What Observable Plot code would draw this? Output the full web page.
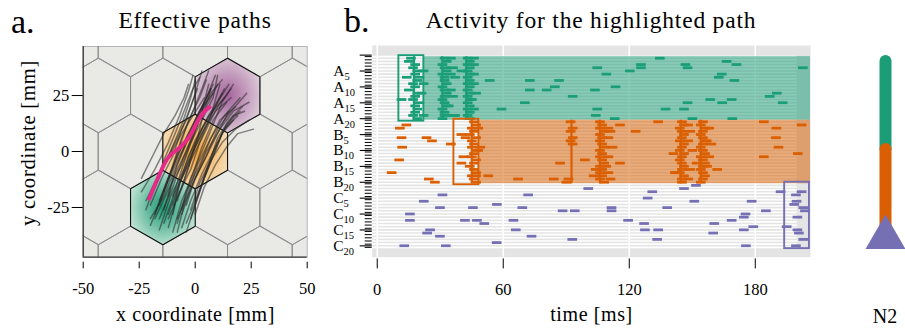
<!DOCTYPE html>
<html><head><meta charset="utf-8">
<script src="https://cdn.jsdelivr.net/npm/d3@7"></script>
<script src="https://cdn.jsdelivr.net/npm/@observablehq/plot@0.6"></script>
<style>
html,body{margin:0;padding:0;background:#fff;}
#root{position:relative;width:905px;height:332px;overflow:hidden;}
#root > svg{position:absolute;top:0;}
</style></head><body><div id="root"></div>
<script>
// ---------- shared ----------
const groups = ["A", "B", "C"];
const groupColors = ["#1b9e77", "#d95f02", "#7570b3"];
const groupOffset = {A: 0, B: 20, C: 40};

// ---------- panel a data ----------
const xDomA = [-50, 50];
const yDomA = [-47.2, 46.9];
const hexRadius = 16.67;
const hexCenters = [
  [-57.74, 50], [-28.87, 50], [0, 50], [28.87, 50], [57.74, 50],
  [-43.3, 25], [-14.43, 25], [14.43, 25], [43.3, 25],
  [-57.74, 0], [-28.87, 0], [0, 0], [28.87, 0], [57.74, 0],
  [-43.3, -25], [-14.43, -25], [14.43, -25], [43.3, -25],
  [-57.74, -50], [-28.87, -50], [0, -50], [28.87, -50], [57.74, -50]
];
const highlightedHexes = [
  {group: "A", cx: -14.43, cy: -25, inner: "#1d9a73", outer: "#c3e5d7"},
  {group: "B", cx: 0, cy: 0, inner: "#f5a43a", outer: "#f6ddb8"},
  {group: "C", cx: 14.43, cy: 25, inner: "#a5639c", outer: "#ddcdd9"}
];
const grayPaths = [
  [[-20,-33],[-14,-18],[-8,-4],[-2,8],[4,22],[8,30]],
  [[-16,-35],[-11,-20],[-5,-8],[0,5],[6,16],[12,26]],
  [[-12,-30],[-6,-16],[-2,-4],[4,8],[10,20],[16,28]],
  [[-8,-32],[-4,-18],[2,-6],[7,6],[13,16],[20,24]],
  [[-22,-26],[-17,-12],[-11,0],[-6,12],[-2,24],[0,32]],
  [[-24,-18],[-18,-8],[-12,4],[-7,16],[-3,27],[-1,34]],
  [[-6,-28],[-1,-14],[5,-2],[10,10],[16,18],[23,26]],
  [[-14,-26],[-10,-12],[-4,0],[1,12],[5,24],[9,34]],
  [[-18,-30],[-12,-17],[-6,-6],[-1,6],[3,18],[6,30]],
  [[-10,-36],[-6,-22],[-1,-10],[3,2],[8,14],[14,22]],
  [[-4,-24],[0,-12],[5,0],[11,10],[17,18],[24,22]],
  [[-16,-22],[-11,-10],[-7,2],[-3,14],[2,24],[5,32]],
  [[-20,-20],[-15,-8],[-9,4],[-4,14],[0,26],[3,36]],
  [[-12,-34],[-8,-20],[-2,-8],[2,4],[7,16],[11,30]],
  [[-2,-30],[2,-18],[6,-6],[10,6],[15,14],[21,20]],
  [[-8,-22],[-4,-10],[0,2],[5,12],[10,22],[15,30]],
  [[-18,-16],[-14,-4],[-9,8],[-5,18],[-1,28],[2,33]],
  [[-14,-32],[-9,-18],[-3,-6],[1,6],[4,18],[7,28]],
  [[-6,-34],[-2,-22],[3,-10],[8,0],[13,10],[19,16]],
  [[-24,-12],[-19,-2],[-14,8],[-9,16],[-5,24],[-3,30]],
  [[-10,-28],[-7,-14],[-2,-2],[3,10],[9,20],[13,28]],
  [[0,-22],[4,-12],[8,-2],[12,8],[17,16],[22,18]],
  [[-16,-30],[-10,-16],[-5,-2],[0,10],[5,20],[10,30]],
  [[-12,-20],[-8,-6],[-3,6],[2,16],[7,26],[12,32]],
  [[-4,-36],[0,-24],[4,-12],[8,-2],[12,8],[17,14]],
  [[-20,-24],[-15,-12],[-10,-2],[-6,10],[-2,20],[1,28]],
  [[-8,-30],[-3,-18],[1,-6],[6,4],[11,14],[18,20]],
  [[-2,-26],[2,-14],[7,-4],[12,4],[18,10],[24,14]],
  [[-14,-18],[-10,-6],[-6,6],[-1,18],[3,28],[6,36]],
  [[-10,-24],[-6,-12],[-1,0],[4,10],[9,18],[16,24]],
  [[-18,-28],[-13,-14],[-8,-2],[-3,8],[2,18],[8,26]],
  [[-6,-26],[-2,-12],[3,0],[8,12],[12,22],[17,30]],
  [[-22,-22],[-16,-10],[-11,-1],[-6,8],[-1,16],[4,24]],
  [[-12,-28],[-7,-14],[-3,-2],[2,8],[6,16],[13,24]],
  [[-4,-32],[1,-20],[5,-8],[9,2],[14,12],[20,18]],
  [[-16,-24],[-12,-12],[-7,0],[-2,10],[3,20],[7,28]],
  [[-8,-36],[-5,-24],[0,-12],[5,-2],[10,8],[15,18]],
  [[-20,-30],[-14,-20],[-9,-8],[-4,4],[0,14],[4,22]],
  [[0,-28],[4,-16],[9,-6],[14,2],[19,8],[26,10]],
  [[-10,-20],[-6,-8],[-2,4],[3,14],[8,24],[10,34]]
];
const pinkPath = [[-20.5,-21.1],[-17.1,-12.9],[-11.9,-2.5],[-6.7,1.9],[-2.2,7.1],[0.8,13.1],[3.7,17.5],[6.4,19.8]];
const xTicksA = [-50, -25, 0, 25, 50];
const yTicksA = [-25, 0, 25];

// ---------- panel b data ----------
const xDomB = [-2.4, 206.3];
const yDomB = [-3.5, 63.1];
const timeTicks = [0, 60, 120, 180];
const stripeEnd = 200;
const spikeLength = 4.6;
// scattered spikes: [time ms, neuron number]
const spikesA = [[9.5,14],[35,19],[51.5,8],[70.6,8],[84.5,8],[70.6,11],[78.6,11],[82.5,10],[91,13],[68.2,15],[57.1,17],
  [102.7,4],[123.5,3],[123.5,4],[118.2,5],[107,6],[132.5,1],[144.7,3],[145.7,4],[164.3,2],[169,3],[162,6],[160.6,7],[168,8],
  [101.6,11],[111.4,10],[200.6,4],[188.2,12],[184.8,13],[156.5,14],[166.7,14],[162.2,15],[191,15],[145.7,15],[102.7,17],
  [135.2,17],[144,17],[102,19],[111,20],[148,20],[167,20]];
const burstA1 = [14,13,16,15,17,16,18,17,15,16,13,17,16,15,18,16,17,16,15,17];
const burstA1Extra = [[20,5],[20,9],[19,12],[20,19],[12,7]];
const burstA2 = [30,31,29,30,31,29,30,30,31,29,30,31,30,29,30,31,29,30,30,29];
const burstA2Extra = [[33,1],[34,4],[33,6],[35,7],[33,11],[34,13],[32,16],[34,19]];
const burstA3 = [41,42,41,42,41,42,41,42,41,42,41,42,41,42,41,42,41,42,41,42];
const burstA3Extra = [[44,1],[44,3],[38,5],[44,6],[44,9],[45,12],[43,14],[44,17]];

const spikesB = [[11.8,2],[8.7,3],[9.5,6],[21.4,6],[24,7],[33,8],[9.8,9],[8.4,13],[4.8,17],[22.5,19],[25.4,20],[50.8,18],
  [65,19],[82,19],[85,14],[96.8,13],[113.5,2],[121,4],[131.7,1],[113.5,14],[154.8,7],[159.8,16],[139.7,17],
  [182,1],[188,3],[187.8,6],[189,9],[198.2,11],[182,12],[200,2]];
const burstB1 = [44,45,43,44,42,45,43,44,43,45,44,43,45,44,42,44,45,43,44,45];
const burstB1Extra = [[38,5],[40,6],[39,12],[46,3],[47,9],[46,10],[45,18],[38,14]];
const burstB2 = [[90,1],[91,3],[90,4],[91,6],[90,7],[91,8],[89,19],[88,20]];
const burstB3 = [104,105,104,106,104,105,104,105,106,104,105,104,105,106,104,105,104,105,104,106];
const burstB3Extra = [[108,3],[109,4],[108,6],[110,9],[108,12],[107,15],[108,17],[109,19],[102,16],[101,18]];
const burstB4 = [143,144,142,143,144,143,142,144,143,142,144,143,142,143,144,143,142,144,143,143];
const burstB4Extra = [[146,2],[147,4],[146,7],[148,10],[147,16],[146,19],[139,11],[140,17]];
const burstB5 = [153,152,154,153,152,153,154,153,152,153,154,152,153,154,153,152,153,154,153,152];
const burstB5Extra = [[156,3],[157,8],[156,12],[155,15],[150,14]];

const spikesC = [[29,4],[20.1,6],[27.8,8],[43.5,8],[54.9,7],[13.5,10],[13.5,12],[39.7,12],[45.4,12],[48.9,13],[23.1,15],
  [21.7,16],[27.8,17],[54.8,19],[10.8,20],[30.6,20],[69.8,4],[67,8],[86.2,9],[92,9],[62.8,12],[63.9,15],[71.4,17],
  [90.8,18],[98.4,2],[128.9,3],[144,2],[149.7,1],[126.7,5],[148.9,6],[109.5,8],[109.5,9],[136,8],[176.2,6],[183,9],
  [173.3,10],[172.5,11],[117.4,12],[125,13],[158.4,13],[166.7,12],[177,14],[125.4,15],[131.7,15],[172.5,15],[157.9,16],
  [131.2,18],[173.5,20],[190,3],[192.9,14],
  [200,3],[197.3,4],[197.6,6],[196.5,7],[200.8,8],[201.6,9],[198,11],[198,15],[198.7,16],[200.8,18],[197.3,20]];

const burstLines = [
  {group: "A", t: 17.5}, {group: "A", t: 31}, {group: "A", t: 42.5},
  {group: "B", t: 45}, {group: "B", t: 92.5}, {group: "B", t: 106}, {group: "B", t: 144.5}, {group: "B", t: 154}
];
const bands = [{group: "A", t1: 22.2, y1: 0, y2: 20}, {group: "B", t1: 48.4, y1: 20, y2: 40}];
const boxes = [
  {group: "A", t1: 10.3, t2: 22.2, y1: -0.3, y2: 20.3},
  {group: "B", t1: 36.5, t2: 48.4, y1: 19.7, y2: 40.3},
  {group: "C", t1: 194, t2: 205.8, y1: 39.5, y2: 60.4}
];
const rowTicks = d3.range(0, 61);
const rowLabelTicks = d3.range(0, 61, 5);

// ---------- icon data ----------
const iconParts = [{part: "A", from: 0, to: 1}, {part: "B", from: 1, to: 2}];
const iconSoma = [{part: "C", at: 2}];

const serif = "'Liberation Serif', 'Times New Roman', serif";
const baseStyle = {fontFamily: serif, fontSize: "16.5px", background: "transparent", overflow: "visible", color: "black"};

// ---------- build panel a ----------
function hexVerts(cx, cy, id, extra) {
  return d3.range(6).map(k => {
    const a = Math.PI / 180 * (90 + 60 * k);
    return {id, x: cx + hexRadius * Math.cos(a), y: cy + hexRadius * Math.sin(a), ...extra};
  });
}
const hexGrid = hexCenters.flatMap(([cx, cy], i) => hexVerts(cx, cy, i));
const grayPts = grayPaths.flatMap((p, i) => p.map(([x, y]) => ({id: i, x, y})));
const pinkPts = pinkPath.map(([x, y]) => ({x, y}));

const plotA = Plot.plot({
  width: 320, height: 332,
  marginLeft: 82.7, marginRight: 13.3, marginTop: 46, marginBottom: 75.3,
  x: {domain: xDomA, label: null}, y: {domain: yDomA, label: null},
  style: baseStyle,
  marks: [
    Plot.frame({fill: "#e9eae6", stroke: "#b5b5b5"}),
    Plot.line(hexGrid, {x: "x", y: "y", z: "id", curve: "linear-closed", stroke: "#8e8e8e", strokeWidth: 1, clip: true}),
    ...highlightedHexes.map(h => Plot.line(hexVerts(h.cx, h.cy, h.group), {
      x: "x", y: "y", curve: "linear-closed", fill: `url(#grad${h.group})`, stroke: "#111", strokeWidth: 1.1
    })),
    Plot.line(grayPts, {x: "x", y: "y", z: "id", stroke: "#262626", strokeOpacity: 0.55, strokeWidth: 1.5}),
    Plot.line(pinkPts, {x: "x", y: "y", stroke: "#e7298a", strokeWidth: 4, strokeLinecap: "round", curve: "catmull-rom"}),
    Plot.ruleX([xDomA[0]], {stroke: "#333", strokeWidth: 1.3}),
    Plot.ruleY([yDomA[0]], {stroke: "#333", strokeWidth: 1.3}),
    Plot.axisY(yTicksA, {label: null, tickSize: 11, tickPadding: 3, tickFormat: d => String(d), fontSize: 16.5}),
    Plot.axisX(xTicksA, {label: null, tickSize: 6.6, tickPadding: 13.5, dy: 5, tickFormat: d => String(d), fontSize: 16.5})
  ]
});
const defsA = d3.select(plotA).insert("defs", ":first-child");
for (const h of highlightedHexes) {
  const g = defsA.append("radialGradient").attr("id", `grad${h.group}`).attr("cx", "50%").attr("cy", "50%").attr("r", "55%");
  g.append("stop").attr("offset", "0%").attr("stop-color", h.inner);
  g.append("stop").attr("offset", "100%").attr("stop-color", h.outer);
}
plotA.style.left = "0px";

// ---------- build panel b ----------
const spikes = [];
const addPairs = (group, pairs) => { for (const [t, n] of pairs) spikes.push({group, t, n}); };
const addRows = (group, times) => times.forEach((t, i) => spikes.push({group, t, n: i + 1}));
addPairs("A", spikesA); addRows("A", burstA1); addPairs("A", burstA1Extra);
addRows("A", burstA2); addPairs("A", burstA2Extra); addRows("A", burstA3); addPairs("A", burstA3Extra);
addPairs("B", spikesB); addRows("B", burstB1); addPairs("B", burstB1Extra); addPairs("B", burstB2);
addRows("B", burstB3); addPairs("B", burstB3Extra); addRows("B", burstB4); addPairs("B", burstB4Extra);
addRows("B", burstB5); addPairs("B", burstB5Extra);
addPairs("C", spikesC);

const rowLabel = i => {
  if (i === 0) return "";
  const g = groups[Math.floor((i - 1) / 20)];
  return g + (i - 20 * Math.floor((i - 1) / 20));
};

const plotB = Plot.plot({
  width: 500, height: 332,
  marginLeft: 51.7, marginRight: 10, marginTop: 45, marginBottom: 75.3,
  x: {domain: xDomB, label: null}, y: {domain: yDomB, reverse: true, label: null},
  color: {domain: groups, range: groupColors},
  style: baseStyle,
  marks: [
    Plot.frame({fill: "#e4e4e4"}),
    Plot.gridX(timeTicks, {stroke: "white", strokeOpacity: 1, strokeWidth: 1.6}),
    Plot.ruleY(rowTicks, {x1: xDomB[0], x2: stripeEnd, stroke: "white", strokeWidth: 1.6}),
    Plot.rect(bands, {x1: "t1", x2: () => xDomB[1], y1: "y1", y2: "y2", fill: "group", fillOpacity: 0.52}),
    Plot.ruleX(burstLines, {x: "t", y1: d => groupOffset[d.group], y2: d => groupOffset[d.group] + 20, stroke: "group", strokeWidth: 2.2}),
    Plot.ruleY(spikes, {y: d => groupOffset[d.group] + d.n - 0.5, x1: "t", x2: d => d.t + spikeLength, stroke: "group", strokeWidth: 2.8}),
    Plot.rect(boxes, {x1: "t1", x2: "t2", y1: "y1", y2: "y2", fill: "none", stroke: "group", strokeWidth: 1.9}),
    Plot.axisY(rowTicks, {label: null, tickSize: 7, tickFormat: () => "", strokeWidth: 1}),
    Plot.axisY(rowLabelTicks, {label: null, tickSize: 12, tickPadding: 27, textAnchor: "start", tickFormat: rowLabel, fontSize: 15.5, dy: -1.5, strokeWidth: 1.1}),
    Plot.axisX(timeTicks, {label: null, tickSize: 10, tickPadding: 14, dy: 1.7, tickFormat: d => String(d), fontSize: 16.5})
  ]
});
d3.select(plotB).selectAll("text").each(function() {
  const m = /^([ABC])(\d+)$/.exec(this.textContent);
  if (m) {
    this.textContent = m[1];
    d3.select(this).append("tspan").attr("dy", "0.38em").attr("font-size", "10.5px").text(m[2]);
  }
});
plotB.style.left = "320px";

// ---------- build icon ----------
const plotC = Plot.plot({
  width: 85, height: 332,
  marginLeft: 45, marginRight: 0, marginTop: 61, marginBottom: 95,
  x: {type: "point", domain: ["N2"], axis: null},
  y: {domain: [0, 2], reverse: true, axis: null},
  color: {domain: groups, range: groupColors},
  style: baseStyle,
  marks: [
    Plot.ruleX(iconParts, {x: () => "N2", y1: "from", y2: "to", stroke: "part", strokeWidth: 12, strokeLinecap: "round"}),
    Plot.dot(iconSoma, {x: () => "N2", y: "at", symbol: "triangle", r: 14.85, fill: "part", stroke: null})
  ]
});
plotC.style.left = "820px";

const root = document.getElementById("root");
root.append(plotA, plotB, plotC);

// ---------- titles & axis labels ----------
const texts = [
  {t: "a.", x: 11, y: 32.5, size: 34, anchor: "start"},
  {t: "Effective paths", x: 195, y: 28.3, size: 23.5, anchor: "middle", ls: 0.8},
  {t: "b.", x: 344, y: 31.5, size: 34, anchor: "start"},
  {t: "Activity for the highlighted path", x: 591, y: 28.3, size: 23.5, anchor: "middle", ls: 0.8},
  {t: "x coordinate [mm]", x: 195.5, y: 320.5, size: 20, anchor: "middle", ls: 0.6},
  {t: "y coordinate [mm]", x: 35, y: 143, size: 20.5, anchor: "middle", ls: 0.8, rotate: true},
  {t: "time [ms]", x: 591.5, y: 321, size: 20, anchor: "middle", ls: 0.6},
  {t: "N2", x: 885, y: 322.5, size: 20, anchor: "middle"}
];
const overlay = d3.select(root).append("svg").attr("width", 905).attr("height", 332)
  .style("left", "0px").style("pointer-events", "none");
overlay.selectAll("text").data(texts).join("text")
  .attr("transform", d => d.rotate ? `translate(${d.x},${d.y}) rotate(-90)` : `translate(${d.x},${d.y})`)
  .attr("text-anchor", d => d.anchor)
  .attr("font-family", serif)
  .attr("font-size", d => d.size)
  .attr("letter-spacing", d => d.ls || 0)
  .attr("fill", "#000")
  .text(d => d.t);
</script></body></html>
